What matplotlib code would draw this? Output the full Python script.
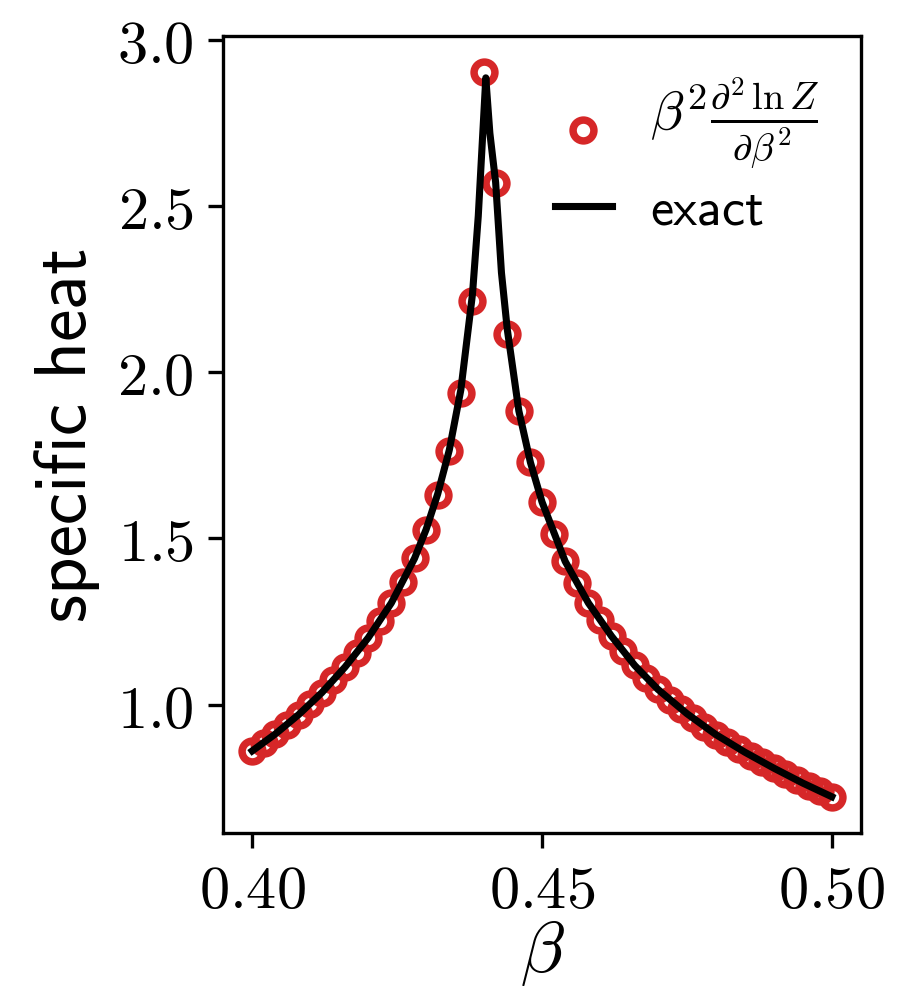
import matplotlib
matplotlib.use("Agg")
import matplotlib.pyplot as plt
import numpy as np

# inverse temperature grid of the markers
beta = [0.400, 0.402, 0.404, 0.406, 0.408, 0.410, 0.412, 0.414, 0.416, 0.418,
        0.420, 0.422, 0.424, 0.426, 0.428, 0.430, 0.432, 0.434, 0.436, 0.438,
        0.440, 0.442, 0.444, 0.446, 0.448, 0.450, 0.452, 0.454, 0.456, 0.458,
        0.460, 0.462, 0.464, 0.466, 0.468, 0.470, 0.472, 0.474, 0.476, 0.478,
        0.480, 0.482, 0.484, 0.486, 0.488, 0.490, 0.492, 0.494, 0.496, 0.498,
        0.500]
# beta^2 d^2 lnZ / d beta^2 (markers)
heat = [0.861, 0.886, 0.912, 0.940, 0.970, 1.002, 1.036, 1.073, 1.113, 1.155,
        1.201, 1.251, 1.306, 1.368, 1.440, 1.527, 1.632, 1.762, 1.939, 2.214,
        2.903, 2.571, 2.116, 1.884, 1.729, 1.610, 1.514, 1.431, 1.365, 1.306,
        1.255, 1.206, 1.160, 1.118, 1.080, 1.046, 1.015, 0.987, 0.960, 0.934,
        0.910, 0.888, 0.867, 0.847, 0.828, 0.809, 0.791, 0.773, 0.756, 0.739,
        0.723]

# exact curve
beta_exact = [0.400, 0.404, 0.408, 0.412, 0.416, 0.420, 0.424, 0.428, 0.430, 0.432,
              0.434, 0.436, 0.438, 0.439, 0.4403, 0.441, 0.442, 0.443, 0.444,
              0.446, 0.448, 0.450, 0.454, 0.458, 0.462, 0.466, 0.470, 0.475,
              0.480, 0.485, 0.490, 0.495, 0.500]
heat_exact = [0.861, 0.912, 0.970, 1.036, 1.113, 1.201, 1.306, 1.440, 1.527, 1.634,
              1.766, 1.948, 2.235, 2.470, 2.886, 2.720, 2.571, 2.300, 2.130,
              1.884, 1.729, 1.610, 1.431, 1.306, 1.206, 1.118, 1.046, 0.973,
              0.910, 0.857, 0.809, 0.764, 0.723]

plt.rcParams['mathtext.fontset'] = 'cm'
plt.rcParams['axes.unicode_minus'] = False

fig = plt.figure(figsize=(2.99, 3.32), dpi=300)
ax = fig.add_axes([0.2486, 0.1637, 0.7113, 0.8002])

ax.plot(beta, heat, 'o', mfc='none', mec='#d62728', ms=5.0, mew=1.8,
        label=r'$\beta^2\frac{\partial^2\,\ln Z}{\partial\beta^2}$')
ax.plot(beta_exact, heat_exact, '-', color='black', lw=1.7, label='exact')

ax.set_xlim(0.39495, 0.50505)
ax.set_ylim(0.614, 3.012)
ax.set_xticks([0.40, 0.45, 0.50])
ax.set_xticklabels(['$0.40$', '$0.45$', '$0.50$'])
ax.set_yticks([1.0, 1.5, 2.0, 2.5, 3.0])
ax.set_yticklabels(['$1.0$', '$1.5$', '$2.0$', '$2.5$', '$3.0$'])
ax.tick_params(labelsize=14.5)

ax.set_xlabel(r'$\beta$', fontsize=17.5, labelpad=-1)
ax.set_ylabel('specific heat', fontsize=17.5, family='cmss10')

leg = ax.legend(loc='upper right', bbox_to_anchor=(1.008, 1.009), frameon=False,
                handlelength=1.1, handletextpad=0.73, labelspacing=0.3,
                prop={'family': 'cmss10', 'size': 12.5})
leg.get_texts()[0].set_fontsize(13.2)
# centre the circle on the fraction
mk = leg.legend_handles[0]
mk.set_ydata(np.asarray(mk.get_ydata()) - 3.8)

fig.savefig('out.png', dpi=300)
